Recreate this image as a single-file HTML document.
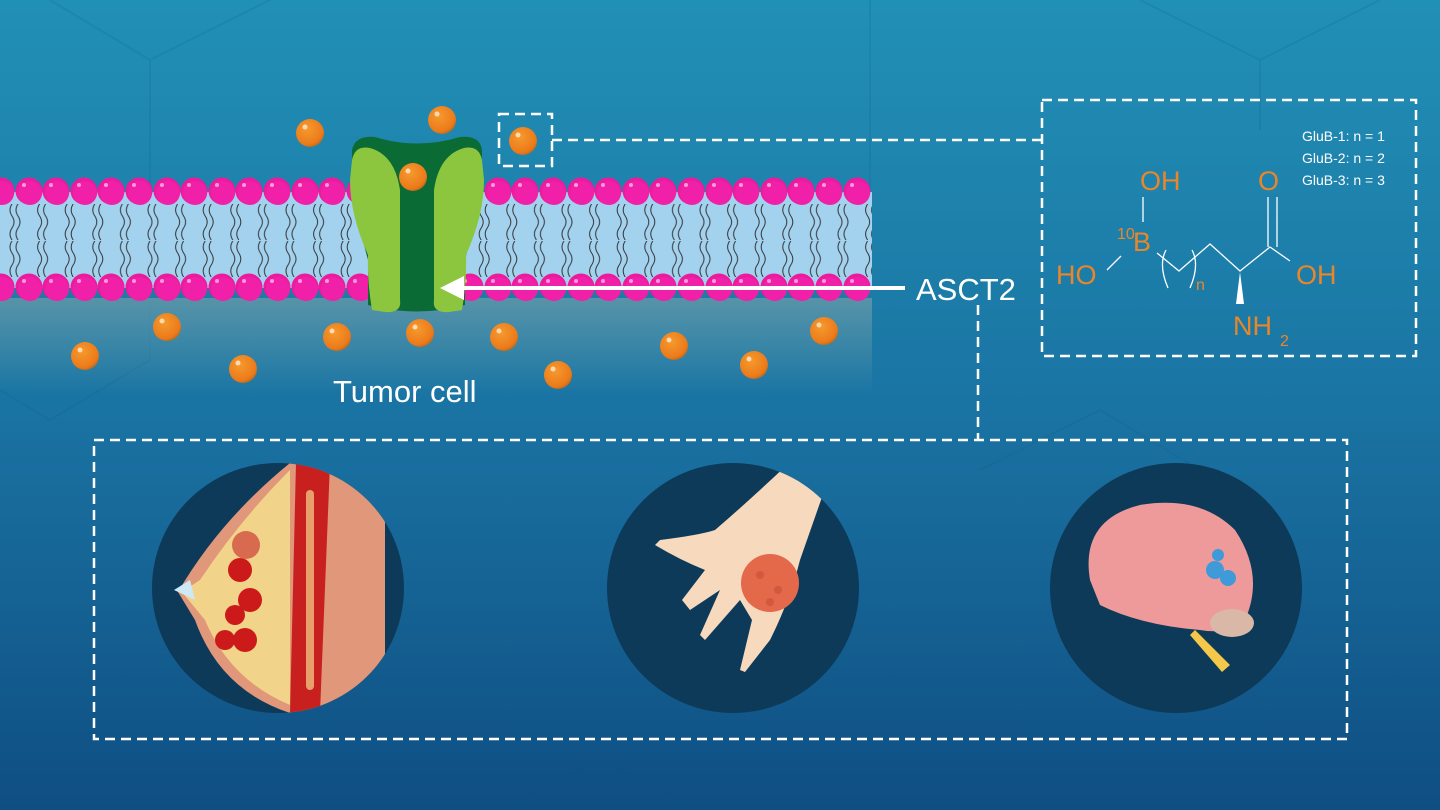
<!DOCTYPE html>
<html><head><meta charset="utf-8"><style>
html,body{margin:0;padding:0;width:1440px;height:810px;overflow:hidden}
svg{display:block}
text{font-family:"Liberation Sans",sans-serif}
</style></head><body>
<svg width="1440" height="810" viewBox="0 0 1440 810" xmlns="http://www.w3.org/2000/svg">
<defs>
<linearGradient id="bg" x1="0" y1="0" x2="0" y2="1">
<stop offset="0" stop-color="#2190b6"/><stop offset="0.5" stop-color="#1a74a3"/><stop offset="1" stop-color="#0f4e82"/>
</linearGradient>
<linearGradient id="cyto" x1="0" y1="0" x2="0" y2="1">
<stop offset="0" stop-color="#5e96a8" stop-opacity="0.9"/><stop offset="1" stop-color="#5e96a8" stop-opacity="0"/>
</linearGradient>
<radialGradient id="ball" cx="0.4" cy="0.35" r="0.7">
<stop offset="0" stop-color="#f59a2e"/><stop offset="0.8" stop-color="#ec7a1a"/><stop offset="1" stop-color="#b8661a"/>
</radialGradient>
<g id="b"><circle r="14" fill="url(#ball)"/><circle cx="-5" cy="-6" r="2.5" fill="#ffd9b0"/></g>
<g id="h"><circle r="13.5" fill="#ec1a9c"/><circle cx="1" cy="2" r="12" fill="#f021a8"/><circle cx="-5" cy="-6" r="2" fill="#ff9ad6"/></g>
<pattern id="tails" x="1" y="204" width="27.6" height="36" patternUnits="userSpaceOnUse">
<path d="M11 0 q-4 6 0 12 q4 6 0 12 q-4 6 0 12 M17 0 q-4 6 0 12 q4 6 0 12 q-4 6 0 12" fill="none" stroke="#333" stroke-width="1"/>
</pattern>
<pattern id="tails2" x="1" y="241" width="27.6" height="36" patternUnits="userSpaceOnUse">
<path d="M11 0 q-4 6 0 12 q4 6 0 12 q-4 6 0 12 M17 0 q-4 6 0 12 q4 6 0 12 q-4 6 0 12" fill="none" stroke="#333" stroke-width="1"/>
</pattern>
<clipPath id="c1"><ellipse cx="278" cy="588" rx="126" ry="125"/></clipPath>
<clipPath id="c2"><ellipse cx="733" cy="588" rx="126" ry="125"/></clipPath>
</defs>
<rect width="1440" height="810" fill="url(#bg)"/>
<g stroke="#0d5a85" stroke-opacity="0.15" fill="none" stroke-width="2">
<path d="M50 0 L150 60 L150 200 M150 60 L270 0 M870 0 L870 200 M1140 0 L1260 60 L1380 0 M1260 60 L1260 130 M0 390 L50 420 L150 360 L150 300 M320 810 L320 700 M980 470 L1100 410 L1200 470 M1300 810 L1300 760 M500 810 L600 760 L700 810"/>
</g>
<rect x="0" y="298" width="872" height="95" fill="url(#cyto)"/>
<rect x="0" y="192" width="872" height="96" fill="#a3d2ef"/>
<rect x="0" y="204" width="872" height="36" fill="url(#tails)"/>
<rect x="0" y="241" width="872" height="36" fill="url(#tails2)"/>
<g id="row">
<use href="#h" x="1" y="191"/><use href="#h" x="29" y="191"/><use href="#h" x="56" y="191"/><use href="#h" x="84" y="191"/><use href="#h" x="111" y="191"/><use href="#h" x="139" y="191"/><use href="#h" x="167" y="191"/><use href="#h" x="194" y="191"/><use href="#h" x="222" y="191"/><use href="#h" x="249" y="191"/><use href="#h" x="277" y="191"/><use href="#h" x="305" y="191"/><use href="#h" x="332" y="191"/><use href="#h" x="360" y="191"/><use href="#h" x="470" y="191"/><use href="#h" x="498" y="191"/><use href="#h" x="525" y="191"/><use href="#h" x="553" y="191"/><use href="#h" x="581" y="191"/><use href="#h" x="608" y="191"/><use href="#h" x="636" y="191"/><use href="#h" x="663" y="191"/><use href="#h" x="691" y="191"/><use href="#h" x="719" y="191"/><use href="#h" x="746" y="191"/><use href="#h" x="774" y="191"/><use href="#h" x="801" y="191"/><use href="#h" x="829" y="191"/><use href="#h" x="857" y="191"/>
</g>
<use href="#row" y="96"/>
<!-- transporter -->
<path d="M352 150 Q355 135 375 137 Q417 150 460 137 Q480 135 482 150 L482 200 Q472 230 465 260 L465 305 Q417 318 368 305 L368 260 Q360 230 352 200 Z" fill="#0b6b35"/>
<path d="M352 160 Q355 145 370 148 Q395 155 400 190 L400 300 Q402 313 385 312 L372 310 Q367 280 368 255 Q350 215 350 180 Z" fill="#8cc63f"/>
<path d="M482 160 Q479 145 464 148 Q439 155 434 190 L434 300 Q432 313 449 312 L462 310 Q467 280 466 255 Q484 215 484 180 Z" fill="#8cc63f"/>
<use href="#b" x="413" y="177"/>
<use href="#b" x="310" y="133"/><use href="#b" x="442" y="120"/><use href="#b" x="523" y="141"/>
<use href="#b" x="167" y="327"/><use href="#b" x="85" y="356"/><use href="#b" x="243" y="369"/><use href="#b" x="337" y="337"/><use href="#b" x="420" y="333"/><use href="#b" x="504" y="337"/><use href="#b" x="558" y="375"/><use href="#b" x="674" y="346"/><use href="#b" x="754" y="365"/><use href="#b" x="824" y="331"/>
<line x1="462" y1="288" x2="905" y2="288" stroke="#fff" stroke-width="4"/>
<path d="M440 288 L464 276 L464 300 Z" fill="#fff"/>
<text x="916" y="300" font-size="31" fill="#fff">ASCT2</text>
<text x="333" y="402" font-size="31" fill="#fff">Tumor cell</text>
<g fill="none" stroke="#fff" stroke-width="2.5" stroke-dasharray="10 6">
<rect x="499" y="114" width="53" height="52"/>
<line x1="552" y1="140" x2="1042" y2="140"/>
<rect x="1042" y="100" width="374" height="256"/>
<line x1="978" y1="305" x2="978" y2="440"/>
<rect x="94" y="440" width="1253" height="299"/>
</g>
<g fill="#fff" font-size="14"><text x="1302" y="141">GluB-1: n = 1</text><text x="1302" y="163">GluB-2: n = 2</text><text x="1302" y="185">GluB-3: n = 3</text></g>
<g fill="#e9862a" font-size="27">
<text x="1140" y="190">OH</text><text x="1258" y="190">O</text>
<text x="1133" y="251">B</text><text x="1117" y="239" font-size="16">10</text>
<text x="1056" y="284">HO</text><text x="1296" y="284">OH</text>
<text x="1233" y="335">NH</text><text x="1280" y="346" font-size="16">2</text>
<text x="1196" y="290" font-size="16">n</text>
</g>
<g stroke="#fff" stroke-width="1.3" fill="none">
<line x1="1143" y1="197" x2="1143" y2="222"/>
<line x1="1107" y1="270" x2="1121" y2="256"/>
<path d="M1157 253 L1179 271 L1210 244 L1240 271 L1270 247 L1290 261"/>
<line x1="1268" y1="247" x2="1268" y2="197"/><line x1="1277" y1="247" x2="1277" y2="197"/>
<path d="M1166 250 Q1158 265 1168 288 M1192 250 Q1200 265 1190 288"/>
</g>
<path d="M1240 272 L1236 304 L1244 304 Z" fill="#fff"/>
<ellipse cx="278" cy="588" rx="126" ry="125" fill="#0e3a5a"/>
<ellipse cx="733" cy="588" rx="126" ry="125" fill="#0e3a5a"/>
<ellipse cx="1176" cy="588" rx="126" ry="125" fill="#0e3a5a"/>
<g clip-path="url(#c1)">
<path d="M290 463 L385 480 L385 713 L290 713 Q220 690 195 620 L178 592 Q220 520 290 463 Z" fill="#e0977a"/>
<path d="M290 470 Q240 520 200 580 L182 592 L205 620 Q230 680 290 705 Z" fill="#f1d48a"/>
<path d="M296 463 L330 463 L320 713 L290 713 Z" fill="#c8201f"/>
<rect x="306" y="490" width="8" height="200" fill="#e8a06a" rx="4"/>
<path d="M174 590 L190 580 L195 600 Z" fill="#cfe8f5"/>
<g fill="#cc1a1a"><circle cx="240" cy="570" r="12"/><circle cx="250" cy="600" r="12"/><circle cx="235" cy="615" r="10"/><circle cx="245" cy="640" r="12"/><circle cx="225" cy="640" r="10"/></g>
<circle cx="246" cy="545" r="14" fill="#d86a4f"/>
</g>
<g clip-path="url(#c2)">
<path d="M790 462 L828 480 L800 560 Q790 600 770 640 L745 672 L740 670 L752 620 L740 600 L705 640 L700 635 L720 590 L690 610 L682 600 L705 570 Q680 560 655 545 L660 540 Q700 535 715 530 Q750 500 790 462 Z" fill="#f7d9bd"/>
<circle cx="770" cy="583" r="29" fill="#e4684a"/>
<g fill="#c45038" opacity="0.6"><circle cx="760" cy="575" r="4"/><circle cx="778" cy="590" r="4"/><circle cx="770" cy="602" r="4"/></g>
</g>
<path d="M1090 580 Q1080 520 1140 505 Q1200 495 1235 530 Q1265 575 1245 620 Q1230 635 1200 630 Q1140 625 1100 605 Z" fill="#ef9a9a"/>
<path d="M1195 630 L1230 665 L1222 672 L1190 635 Z" fill="#f6c84a"/>
<ellipse cx="1232" cy="623" rx="22" ry="14" fill="#d9b8a8"/>
<g fill="#3e9ad9"><circle cx="1215" cy="570" r="9"/><circle cx="1228" cy="578" r="8"/><circle cx="1218" cy="555" r="6"/></g>
</svg>
</body></html>
